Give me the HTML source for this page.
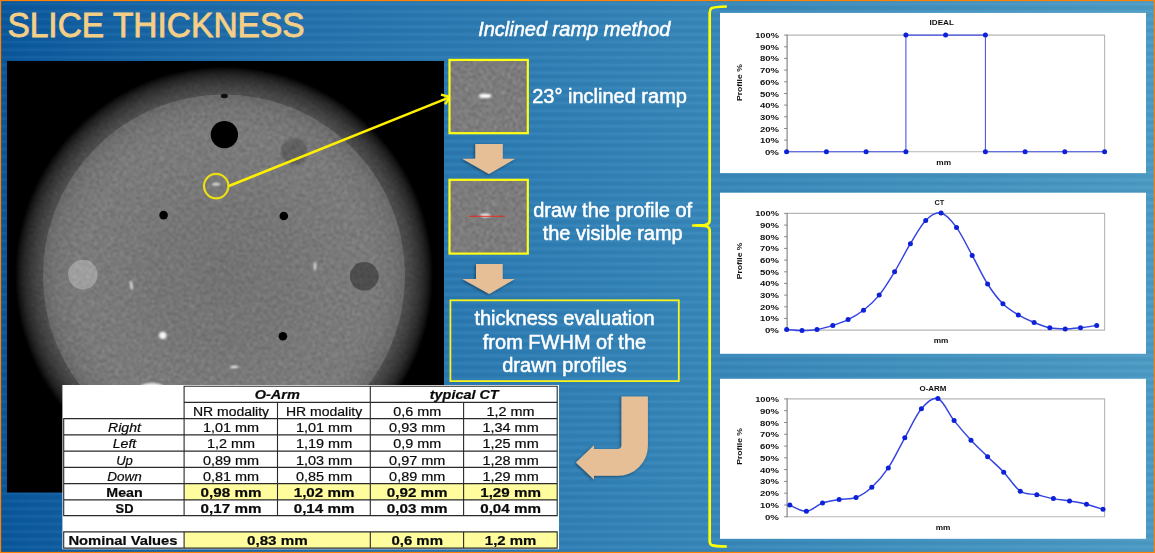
<!DOCTYPE html>
<html>
<head>
<meta charset="utf-8">
<title>Slice thickness</title>
<style>
html,body{margin:0;padding:0;}
body{width:1155px;height:553px;overflow:hidden;background:#2f7db5;font-family:"Liberation Sans",sans-serif;}
#slide{position:relative;width:1155px;height:553px;overflow:hidden;
  background:linear-gradient(90deg,#09579c 0px,#1563a4 120px,#2371ad 300px,#3282b7 610px,#4090be 900px,#4c9bc5 1155px);}
#stripes{position:absolute;left:0;top:0;width:1155px;height:553px;
  background:repeating-linear-gradient(180deg,rgba(0,0,0,0.038) 0px,rgba(0,0,0,0.033) 0.9px,rgba(0,0,0,0) 2.2px,rgba(255,255,255,0.033) 3.0px,rgba(255,255,255,0.038) 3.825px,rgba(255,255,255,0.033) 4.65px,rgba(0,0,0,0) 5.45px,rgba(0,0,0,0.033) 6.75px,rgba(0,0,0,0.038) 7.65px);}
#frame{position:absolute;left:0;top:0;width:1153px;height:551px;border:1px solid #ff8206;box-shadow:inset 0 0 0 0.3px rgba(255,130,6,0.5);}
svg{position:absolute;left:0;top:0;}
text{font-family:"Liberation Sans",sans-serif;}
text[fill="#fff"]{stroke:#fff;stroke-width:0.5px;}
#title{stroke:#f5cf86;stroke-width:0.85px;}
</style>
</head>
<body>
<div id="slide">
<div id="stripes"></div>
<svg width="1155" height="553" viewBox="0 0 1155 553">
<defs>
  <radialGradient id="shell" gradientUnits="userSpaceOnUse" cx="224" cy="275.5" r="210">
    <stop offset="0" stop-color="#505050"/>
    <stop offset="0.862" stop-color="#4e4e4e"/>
    <stop offset="0.895" stop-color="#434343"/>
    <stop offset="0.924" stop-color="#363636"/>
    <stop offset="0.955" stop-color="#252525"/>
    <stop offset="0.975" stop-color="#151515"/>
    <stop offset="0.995" stop-color="#000000"/>
    <stop offset="1" stop-color="#000000"/>
  </radialGradient>
  <radialGradient id="core" gradientUnits="userSpaceOnUse" cx="224" cy="275.5" r="181">
    <stop offset="0" stop-color="#727272"/>
    <stop offset="0.35" stop-color="#757575"/>
    <stop offset="0.6" stop-color="#797979"/>
    <stop offset="0.82" stop-color="#7a7a7a"/>
    <stop offset="0.93" stop-color="#737373"/>
    <stop offset="1" stop-color="#686868"/>
  </radialGradient>
  <clipPath id="ctclip"><rect x="7" y="61" width="437" height="431.5"/></clipPath>
  <clipPath id="phclip"><circle cx="224" cy="275.5" r="210"/></clipPath>
  <filter id="soft" x="-20%" y="-20%" width="140%" height="140%"><feGaussianBlur stdDeviation="0.7"/></filter>
  <filter id="soft2" x="-50%" y="-50%" width="200%" height="200%"><feGaussianBlur stdDeviation="0.85"/></filter>
  <filter id="noise" x="0" y="0" width="100%" height="100%" color-interpolation-filters="sRGB">
    <feTurbulence type="fractalNoise" baseFrequency="0.38" numOctaves="2" seed="7" result="t"/>
    <feGaussianBlur in="t" stdDeviation="0.8" result="tb"/>
    <feColorMatrix in="tb" type="matrix" values="3 0 0 0 -1  3 0 0 0 -1  3 0 0 0 -1  0 0 0 0 1"/>
  </filter>
  <filter id="chartblur" x="-2%" y="-2%" width="104%" height="104%"><feGaussianBlur stdDeviation="0.35"/></filter>
  <clipPath id="b1clip"><rect x="450.6" y="61" width="76.1" height="71.1"/></clipPath>
  <clipPath id="b2clip"><rect x="450.6" y="180.9" width="76.1" height="71.6"/></clipPath>
  <filter id="shadow" x="-20%" y="-20%" width="140%" height="140%">
    <feGaussianBlur in="SourceAlpha" stdDeviation="1.5" result="b"/>
    <feOffset in="b" dx="-1.5" dy="1" result="o"/>
    <feComponentTransfer in="o" result="s"><feFuncA type="linear" slope="0.45"/></feComponentTransfer>
    <feMerge><feMergeNode in="s"/><feMergeNode in="SourceGraphic"/></feMerge>
  </filter>
</defs>

<!-- TITLE -->
<text id="title" x="7.4" y="37.3" font-size="35" fill="#f5cf86" textLength="297.2" lengthAdjust="spacingAndGlyphs">SLICE THICKNESS</text>

<!-- CT PHANTOM IMAGE -->
<g id="ct" clip-path="url(#ctclip)">
  <rect x="7" y="61" width="437" height="431.5" fill="#000"/>
  <circle cx="224" cy="275.5" r="210" fill="url(#shell)"/>
  <circle cx="224" cy="275.5" r="181" fill="url(#core)" filter="url(#soft)"/>
  <g filter="url(#soft)">
  <circle cx="224.4" cy="134.6" r="13.7" fill="#000"/>
  <ellipse cx="224.4" cy="96" rx="3.5" ry="2.2" fill="#111"/>
  <circle cx="294.4" cy="151.8" r="13.2" fill="#606060" filter="url(#soft2)"/>
  <circle cx="163.6" cy="215.1" r="4.3" fill="#000"/>
  <circle cx="283.8" cy="216" r="4.3" fill="#000"/>
  <circle cx="282.9" cy="336.2" r="4.3" fill="#000"/>
  <circle cx="82.9" cy="274.6" r="14.8" fill="#9e9e9e"/>
  <circle cx="364.3" cy="276.3" r="14.3" fill="#4e4e4e"/>
  </g>
  <g filter="url(#soft2)">
  <ellipse cx="131.5" cy="285.5" rx="0.95" ry="4.8" fill="#ffffff" transform="rotate(-6 131.5 285.5)"/>
  <ellipse cx="315" cy="266.3" rx="0.9" ry="4.2" fill="#ffffff"/>
  <circle cx="162.8" cy="335.4" r="3.7" fill="#f4f4f4"/>
  <ellipse cx="234.3" cy="367" rx="4.2" ry="0.95" fill="#ffffff"/>
  <ellipse cx="152" cy="387" rx="12" ry="4" fill="#e8e8e8"/>
  <ellipse cx="216" cy="184.3" rx="4.2" ry="1.05" fill="#fff"/>
  </g>
  <g clip-path="url(#phclip)" style="mix-blend-mode:overlay" opacity="0.11">
    <rect x="7" y="61" width="436" height="432" filter="url(#noise)"/>
  </g>
</g>
<!-- yellow marker + arrow -->
<circle cx="216.2" cy="186.1" r="12.2" fill="none" stroke="#ecdf12" stroke-width="2.2"/>
<line x1="228.9" y1="186" x2="450" y2="97.1" stroke="#fff000" stroke-width="2.5"/>
<polyline points="441,94.6 450.2,97 445,104.3" fill="none" stroke="#fff000" stroke-width="2.4" stroke-linejoin="miter"/>

<!-- MIDDLE COLUMN -->
<text x="574.3" y="36.4" font-size="20" font-style="italic" fill="#fff" text-anchor="middle">Inclined ramp method</text>

<rect x="449.5" y="59.9" width="78.3" height="73.3" fill="#7b7b7b" stroke="#ffff14" stroke-width="2.2"/>
<g clip-path="url(#b1clip)"><rect x="450" y="60" width="78" height="74" filter="url(#noise)" style="mix-blend-mode:overlay" opacity="0.13"/></g>
<ellipse cx="485.2" cy="95.9" rx="6.5" ry="2.2" fill="#ffffff" filter="url(#soft2)"/>
<text x="532.2" y="102.8" font-size="20" fill="#fff">23° inclined ramp</text>

<g filter="url(#shadow)">
<polygon points="475.3,143.9 502.8,143.9 502.8,158.8 515.2,158.8 489,173.9 462.3,158.8 475.3,158.8" fill="#e7bf96"/>
<polygon points="476,263.9 502.7,263.9 502.7,279 514.8,279 489.3,294.1 462.3,279 476,279" fill="#e7bf96"/>
<path d="M621.5,396.4 L647.9,396.4 L647.9,445.7 A30,30 0 0 1 617.9,475.7 L594,475.7 L594,479.5 L576,462.4 L594,445.2 L594,449 L617.5,449 Q621.5,449 621.5,445 Z" fill="#e7bf96"/>
</g>

<rect x="449.5" y="179.8" width="78.3" height="73.8" fill="#7b7b7b" stroke="#ffff14" stroke-width="2.2"/>
<g clip-path="url(#b2clip)"><rect x="450" y="180" width="78" height="74" filter="url(#noise)" style="mix-blend-mode:overlay" opacity="0.13"/></g>
<ellipse cx="485.3" cy="215.5" rx="5.6" ry="1.9" fill="#ececec" filter="url(#soft2)"/>
<line x1="468.6" y1="216.2" x2="504.7" y2="216.2" stroke="#e8281c" stroke-width="1.1"/>
<text x="612.7" y="216.6" font-size="20" fill="#fff" text-anchor="middle">draw the profile of</text>
<text x="612.7" y="240.4" font-size="20" fill="#fff" text-anchor="middle">the visible ramp</text>

<rect x="450.4" y="300.3" width="228.4" height="80.8" fill="none" stroke="#f8f41c" stroke-width="1.8"/>
<text x="564.5" y="324.8" font-size="20" fill="#fff" text-anchor="middle">thickness evaluation</text>
<text x="564.5" y="348.6" font-size="20" fill="#fff" text-anchor="middle">from FWHM of the</text>
<text x="564.5" y="371.9" font-size="20" fill="#fff" text-anchor="middle">drawn profiles</text>

<!-- bracket -->
<path d="M726.8,6.5 Q714,6.8 711.3,8.3 Q709.7,9.5 709.7,13 L709.7,220.3 Q709.7,224.6 704.5,225 L693.2,225.5 L704.5,226 Q709.7,226.4 709.7,230.7 L709.7,540.5 Q709.7,544 711.5,545 Q715,546.4 726.8,546.5" fill="none" stroke="#ffff00" stroke-width="2.7" stroke-linejoin="round"/>

<!-- GEN-START -->
<g id="table">
<rect x="62.4" y="385" width="496.6" height="164.3" fill="#fff"/>
<rect x="184.1" y="483.6" width="373.1" height="16.3" fill="#fffc9e"/>
<rect x="184.1" y="531.9" width="373.1" height="16.2" fill="#fffc9e"/>
<path d="M184.1,386.3H557.2M184.1,402.4H557.2M63.7,418.6H557.2M63.7,434.85H557.2M63.7,451.1H557.2M63.7,467.35H557.2M63.7,483.6H557.2M63.7,499.9H557.2M63.7,515.6H557.2M63.7,531.9H557.2M63.7,548.1H557.2M63.7,418.6V515.6M63.7,531.9V548.1M184.1,386.3V515.6M184.1,531.9V548.1M277.5,402.4V515.6M370.3,386.3V515.6M370.3,531.9V548.1M463.6,402.4V515.6M463.6,531.9V548.1M557.2,386.3V515.6M557.2,531.9V548.1" fill="none" stroke="#2a2a2a" stroke-width="1.1" stroke-linecap="square"/>
<text x="277.3" y="399.0" font-size="12.5" text-anchor="middle" fill="#0a0a0a" stroke="#0a0a0a" stroke-width="0.2" textLength="45.2" lengthAdjust="spacingAndGlyphs" font-weight="bold" font-style="italic">O-Arm</text>
<text x="464.2" y="399.0" font-size="12.5" text-anchor="middle" fill="#0a0a0a" stroke="#0a0a0a" stroke-width="0.2" textLength="68.8" lengthAdjust="spacingAndGlyphs" font-weight="bold" font-style="italic">typical CT</text>
<text x="231.0" y="415.7" font-size="12.5" text-anchor="middle" fill="#0a0a0a" stroke="#0a0a0a" stroke-width="0.2" textLength="76.2" lengthAdjust="spacingAndGlyphs">NR modality</text>
<text x="324.1" y="415.7" font-size="12.5" text-anchor="middle" fill="#0a0a0a" stroke="#0a0a0a" stroke-width="0.2" textLength="76.2" lengthAdjust="spacingAndGlyphs">HR modality</text>
<text x="417.2" y="415.7" font-size="12.5" text-anchor="middle" fill="#0a0a0a" stroke="#0a0a0a" stroke-width="0.2" textLength="48.0" lengthAdjust="spacingAndGlyphs">0,6 mm</text>
<text x="510.6" y="415.7" font-size="12.5" text-anchor="middle" fill="#0a0a0a" stroke="#0a0a0a" stroke-width="0.2" textLength="48.0" lengthAdjust="spacingAndGlyphs">1,2 mm</text>
<text x="124.5" y="432.0" font-size="12.5" text-anchor="middle" fill="#0a0a0a" stroke="#0a0a0a" stroke-width="0.2" textLength="32.9" lengthAdjust="spacingAndGlyphs" font-style="italic">Right</text>
<text x="231.0" y="432.0" font-size="12.5" text-anchor="middle" fill="#0a0a0a" stroke="#0a0a0a" stroke-width="0.2" textLength="56.2" lengthAdjust="spacingAndGlyphs">1,01 mm</text>
<text x="324.1" y="432.0" font-size="12.5" text-anchor="middle" fill="#0a0a0a" stroke="#0a0a0a" stroke-width="0.2" textLength="56.2" lengthAdjust="spacingAndGlyphs">1,01 mm</text>
<text x="417.2" y="432.0" font-size="12.5" text-anchor="middle" fill="#0a0a0a" stroke="#0a0a0a" stroke-width="0.2" textLength="56.2" lengthAdjust="spacingAndGlyphs">0,93 mm</text>
<text x="510.6" y="432.0" font-size="12.5" text-anchor="middle" fill="#0a0a0a" stroke="#0a0a0a" stroke-width="0.2" textLength="56.2" lengthAdjust="spacingAndGlyphs">1,34 mm</text>
<text x="124.5" y="448.2" font-size="12.5" text-anchor="middle" fill="#0a0a0a" stroke="#0a0a0a" stroke-width="0.2" textLength="23.5" lengthAdjust="spacingAndGlyphs" font-style="italic">Left</text>
<text x="231.0" y="448.2" font-size="12.5" text-anchor="middle" fill="#0a0a0a" stroke="#0a0a0a" stroke-width="0.2" textLength="48.0" lengthAdjust="spacingAndGlyphs">1,2 mm</text>
<text x="324.1" y="448.2" font-size="12.5" text-anchor="middle" fill="#0a0a0a" stroke="#0a0a0a" stroke-width="0.2" textLength="56.2" lengthAdjust="spacingAndGlyphs">1,19 mm</text>
<text x="417.2" y="448.2" font-size="12.5" text-anchor="middle" fill="#0a0a0a" stroke="#0a0a0a" stroke-width="0.2" textLength="48.0" lengthAdjust="spacingAndGlyphs">0,9 mm</text>
<text x="510.6" y="448.2" font-size="12.5" text-anchor="middle" fill="#0a0a0a" stroke="#0a0a0a" stroke-width="0.2" textLength="56.2" lengthAdjust="spacingAndGlyphs">1,25 mm</text>
<text x="124.5" y="464.5" font-size="12.5" text-anchor="middle" fill="#0a0a0a" stroke="#0a0a0a" stroke-width="0.2" textLength="16.7" lengthAdjust="spacingAndGlyphs" font-style="italic">Up</text>
<text x="231.0" y="464.5" font-size="12.5" text-anchor="middle" fill="#0a0a0a" stroke="#0a0a0a" stroke-width="0.2" textLength="56.2" lengthAdjust="spacingAndGlyphs">0,89 mm</text>
<text x="324.1" y="464.5" font-size="12.5" text-anchor="middle" fill="#0a0a0a" stroke="#0a0a0a" stroke-width="0.2" textLength="56.2" lengthAdjust="spacingAndGlyphs">1,03 mm</text>
<text x="417.2" y="464.5" font-size="12.5" text-anchor="middle" fill="#0a0a0a" stroke="#0a0a0a" stroke-width="0.2" textLength="56.2" lengthAdjust="spacingAndGlyphs">0,97 mm</text>
<text x="510.6" y="464.5" font-size="12.5" text-anchor="middle" fill="#0a0a0a" stroke="#0a0a0a" stroke-width="0.2" textLength="56.2" lengthAdjust="spacingAndGlyphs">1,28 mm</text>
<text x="124.5" y="480.7" font-size="12.5" text-anchor="middle" fill="#0a0a0a" stroke="#0a0a0a" stroke-width="0.2" textLength="34.5" lengthAdjust="spacingAndGlyphs" font-style="italic">Down</text>
<text x="231.0" y="480.7" font-size="12.5" text-anchor="middle" fill="#0a0a0a" stroke="#0a0a0a" stroke-width="0.2" textLength="56.2" lengthAdjust="spacingAndGlyphs">0,81 mm</text>
<text x="324.1" y="480.7" font-size="12.5" text-anchor="middle" fill="#0a0a0a" stroke="#0a0a0a" stroke-width="0.2" textLength="56.2" lengthAdjust="spacingAndGlyphs">0,85 mm</text>
<text x="417.2" y="480.7" font-size="12.5" text-anchor="middle" fill="#0a0a0a" stroke="#0a0a0a" stroke-width="0.2" textLength="56.2" lengthAdjust="spacingAndGlyphs">0,89 mm</text>
<text x="510.6" y="480.7" font-size="12.5" text-anchor="middle" fill="#0a0a0a" stroke="#0a0a0a" stroke-width="0.2" textLength="56.2" lengthAdjust="spacingAndGlyphs">1,29 mm</text>
<text x="124.5" y="497.0" font-size="12.5" text-anchor="middle" fill="#0a0a0a" stroke="#0a0a0a" stroke-width="0.2" textLength="36.3" lengthAdjust="spacingAndGlyphs" font-weight="bold">Mean</text>
<text x="231.0" y="497.0" font-size="12.5" text-anchor="middle" fill="#0a0a0a" stroke="#0a0a0a" stroke-width="0.2" textLength="60.8" lengthAdjust="spacingAndGlyphs" font-weight="bold">0,98 mm</text>
<text x="324.1" y="497.0" font-size="12.5" text-anchor="middle" fill="#0a0a0a" stroke="#0a0a0a" stroke-width="0.2" textLength="60.8" lengthAdjust="spacingAndGlyphs" font-weight="bold">1,02 mm</text>
<text x="417.2" y="497.0" font-size="12.5" text-anchor="middle" fill="#0a0a0a" stroke="#0a0a0a" stroke-width="0.2" textLength="60.8" lengthAdjust="spacingAndGlyphs" font-weight="bold">0,92 mm</text>
<text x="510.6" y="497.0" font-size="12.5" text-anchor="middle" fill="#0a0a0a" stroke="#0a0a0a" stroke-width="0.2" textLength="60.8" lengthAdjust="spacingAndGlyphs" font-weight="bold">1,29 mm</text>
<text x="124.5" y="512.7" font-size="12.5" text-anchor="middle" fill="#0a0a0a" stroke="#0a0a0a" stroke-width="0.2" textLength="17.9" lengthAdjust="spacingAndGlyphs" font-weight="bold">SD</text>
<text x="231.0" y="512.7" font-size="12.5" text-anchor="middle" fill="#0a0a0a" stroke="#0a0a0a" stroke-width="0.2" textLength="60.8" lengthAdjust="spacingAndGlyphs" font-weight="bold">0,17 mm</text>
<text x="324.1" y="512.7" font-size="12.5" text-anchor="middle" fill="#0a0a0a" stroke="#0a0a0a" stroke-width="0.2" textLength="60.8" lengthAdjust="spacingAndGlyphs" font-weight="bold">0,14 mm</text>
<text x="417.2" y="512.7" font-size="12.5" text-anchor="middle" fill="#0a0a0a" stroke="#0a0a0a" stroke-width="0.2" textLength="60.8" lengthAdjust="spacingAndGlyphs" font-weight="bold">0,03 mm</text>
<text x="510.6" y="512.7" font-size="12.5" text-anchor="middle" fill="#0a0a0a" stroke="#0a0a0a" stroke-width="0.2" textLength="60.8" lengthAdjust="spacingAndGlyphs" font-weight="bold">0,04 mm</text>
<text x="123.0" y="544.8" font-size="12.5" text-anchor="middle" fill="#0a0a0a" stroke="#0a0a0a" stroke-width="0.2" textLength="109.1" lengthAdjust="spacingAndGlyphs" font-weight="bold">Nominal Values</text>
<text x="277.4" y="544.8" font-size="12.5" text-anchor="middle" fill="#0a0a0a" stroke="#0a0a0a" stroke-width="0.2" textLength="60.8" lengthAdjust="spacingAndGlyphs" font-weight="bold">0,83 mm</text>
<text x="417.2" y="544.8" font-size="12.5" text-anchor="middle" fill="#0a0a0a" stroke="#0a0a0a" stroke-width="0.2" textLength="51.5" lengthAdjust="spacingAndGlyphs" font-weight="bold">0,6 mm</text>
<text x="510.6" y="544.8" font-size="12.5" text-anchor="middle" fill="#0a0a0a" stroke="#0a0a0a" stroke-width="0.2" textLength="51.5" lengthAdjust="spacingAndGlyphs" font-weight="bold">1,2 mm</text>
</g>
<g id="chart1" filter="url(#chartblur)">
<rect x="720" y="12.9" width="426" height="160.2" fill="#fff"/>
<path d="M787.1,35.1H1104.6V151.8H787.1" fill="none" stroke="#b6b6b6" stroke-width="1.1"/>
<path d="M787.1,34.6V152.3" stroke="#7c7c7c" stroke-width="1.1"/>
<path d="M784.1,151.8H787.1" stroke="#7c7c7c" stroke-width="0.9"/>
<text x="778.9" y="154.8" font-size="7" font-weight="bold" text-anchor="end" fill="#111" textLength="14" lengthAdjust="spacingAndGlyphs">0%</text>
<path d="M784.1,140.1H787.1" stroke="#7c7c7c" stroke-width="0.9"/>
<text x="778.9" y="143.1" font-size="7" font-weight="bold" text-anchor="end" fill="#111" textLength="19" lengthAdjust="spacingAndGlyphs">10%</text>
<path d="M784.1,128.5H787.1" stroke="#7c7c7c" stroke-width="0.9"/>
<text x="778.9" y="131.5" font-size="7" font-weight="bold" text-anchor="end" fill="#111" textLength="19" lengthAdjust="spacingAndGlyphs">20%</text>
<path d="M784.1,116.8H787.1" stroke="#7c7c7c" stroke-width="0.9"/>
<text x="778.9" y="119.8" font-size="7" font-weight="bold" text-anchor="end" fill="#111" textLength="19" lengthAdjust="spacingAndGlyphs">30%</text>
<path d="M784.1,105.1H787.1" stroke="#7c7c7c" stroke-width="0.9"/>
<text x="778.9" y="108.1" font-size="7" font-weight="bold" text-anchor="end" fill="#111" textLength="19" lengthAdjust="spacingAndGlyphs">40%</text>
<path d="M784.1,93.5H787.1" stroke="#7c7c7c" stroke-width="0.9"/>
<text x="778.9" y="96.5" font-size="7" font-weight="bold" text-anchor="end" fill="#111" textLength="19" lengthAdjust="spacingAndGlyphs">50%</text>
<path d="M784.1,81.8H787.1" stroke="#7c7c7c" stroke-width="0.9"/>
<text x="778.9" y="84.8" font-size="7" font-weight="bold" text-anchor="end" fill="#111" textLength="19" lengthAdjust="spacingAndGlyphs">60%</text>
<path d="M784.1,70.1H787.1" stroke="#7c7c7c" stroke-width="0.9"/>
<text x="778.9" y="73.1" font-size="7" font-weight="bold" text-anchor="end" fill="#111" textLength="19" lengthAdjust="spacingAndGlyphs">70%</text>
<path d="M784.1,58.4H787.1" stroke="#7c7c7c" stroke-width="0.9"/>
<text x="778.9" y="61.4" font-size="7" font-weight="bold" text-anchor="end" fill="#111" textLength="19" lengthAdjust="spacingAndGlyphs">80%</text>
<path d="M784.1,46.8H787.1" stroke="#7c7c7c" stroke-width="0.9"/>
<text x="778.9" y="49.8" font-size="7" font-weight="bold" text-anchor="end" fill="#111" textLength="19" lengthAdjust="spacingAndGlyphs">90%</text>
<path d="M784.1,35.1H787.1" stroke="#7c7c7c" stroke-width="0.9"/>
<text x="778.9" y="38.1" font-size="7" font-weight="bold" text-anchor="end" fill="#111" textLength="23.7" lengthAdjust="spacingAndGlyphs">100%</text>
<text x="941.7" y="25.3" font-size="7" font-weight="bold" text-anchor="middle" fill="#111" textLength="24.4" lengthAdjust="spacingAndGlyphs">IDEAL</text>
<text x="943.7" y="165.3" font-size="7" font-weight="bold" text-anchor="middle" fill="#111" textLength="14.7" lengthAdjust="spacingAndGlyphs">mm</text>
<text transform="translate(741.6,82.6) rotate(-90)" font-size="7" font-weight="bold" text-anchor="middle" fill="#111" textLength="36.8" lengthAdjust="spacingAndGlyphs">Profile %</text>
<path d="M786.6,151.8L826.4,151.8L866.1,151.8L905.9,151.8L905.9,35.1L945.6,35.1L985.4,35.1L985.4,151.8L1025.1,151.8L1064.8,151.8L1104.6,151.8" fill="none" stroke="#4450e4" stroke-width="1.05" stroke-linejoin="round"/>
<circle cx="786.6" cy="151.8" r="2.5" fill="#0c20d8"/>
<circle cx="826.4" cy="151.8" r="2.5" fill="#0c20d8"/>
<circle cx="866.1" cy="151.8" r="2.5" fill="#0c20d8"/>
<circle cx="905.9" cy="151.8" r="2.5" fill="#0c20d8"/>
<circle cx="905.9" cy="35.1" r="2.5" fill="#0c20d8"/>
<circle cx="945.6" cy="35.1" r="2.5" fill="#0c20d8"/>
<circle cx="985.4" cy="35.1" r="2.5" fill="#0c20d8"/>
<circle cx="985.4" cy="151.8" r="2.5" fill="#0c20d8"/>
<circle cx="1025.1" cy="151.8" r="2.5" fill="#0c20d8"/>
<circle cx="1064.8" cy="151.8" r="2.5" fill="#0c20d8"/>
<circle cx="1104.6" cy="151.8" r="2.5" fill="#0c20d8"/>
</g>
<g id="chart2" filter="url(#chartblur)">
<rect x="720" y="192.7" width="426" height="161.1" fill="#fff"/>
<path d="M787.1,213.4H1104.6V330.1H787.1" fill="none" stroke="#b6b6b6" stroke-width="1.1"/>
<path d="M787.1,212.9V330.6" stroke="#7c7c7c" stroke-width="1.1"/>
<path d="M784.1,330.1H787.1" stroke="#7c7c7c" stroke-width="0.9"/>
<text x="778.9" y="333.1" font-size="7" font-weight="bold" text-anchor="end" fill="#111" textLength="14" lengthAdjust="spacingAndGlyphs">0%</text>
<path d="M784.1,318.4H787.1" stroke="#7c7c7c" stroke-width="0.9"/>
<text x="778.9" y="321.4" font-size="7" font-weight="bold" text-anchor="end" fill="#111" textLength="19" lengthAdjust="spacingAndGlyphs">10%</text>
<path d="M784.1,306.8H787.1" stroke="#7c7c7c" stroke-width="0.9"/>
<text x="778.9" y="309.8" font-size="7" font-weight="bold" text-anchor="end" fill="#111" textLength="19" lengthAdjust="spacingAndGlyphs">20%</text>
<path d="M784.1,295.1H787.1" stroke="#7c7c7c" stroke-width="0.9"/>
<text x="778.9" y="298.1" font-size="7" font-weight="bold" text-anchor="end" fill="#111" textLength="19" lengthAdjust="spacingAndGlyphs">30%</text>
<path d="M784.1,283.4H787.1" stroke="#7c7c7c" stroke-width="0.9"/>
<text x="778.9" y="286.4" font-size="7" font-weight="bold" text-anchor="end" fill="#111" textLength="19" lengthAdjust="spacingAndGlyphs">40%</text>
<path d="M784.1,271.8H787.1" stroke="#7c7c7c" stroke-width="0.9"/>
<text x="778.9" y="274.8" font-size="7" font-weight="bold" text-anchor="end" fill="#111" textLength="19" lengthAdjust="spacingAndGlyphs">50%</text>
<path d="M784.1,260.1H787.1" stroke="#7c7c7c" stroke-width="0.9"/>
<text x="778.9" y="263.1" font-size="7" font-weight="bold" text-anchor="end" fill="#111" textLength="19" lengthAdjust="spacingAndGlyphs">60%</text>
<path d="M784.1,248.4H787.1" stroke="#7c7c7c" stroke-width="0.9"/>
<text x="778.9" y="251.4" font-size="7" font-weight="bold" text-anchor="end" fill="#111" textLength="19" lengthAdjust="spacingAndGlyphs">70%</text>
<path d="M784.1,236.7H787.1" stroke="#7c7c7c" stroke-width="0.9"/>
<text x="778.9" y="239.7" font-size="7" font-weight="bold" text-anchor="end" fill="#111" textLength="19" lengthAdjust="spacingAndGlyphs">80%</text>
<path d="M784.1,225.1H787.1" stroke="#7c7c7c" stroke-width="0.9"/>
<text x="778.9" y="228.1" font-size="7" font-weight="bold" text-anchor="end" fill="#111" textLength="19" lengthAdjust="spacingAndGlyphs">90%</text>
<path d="M784.1,213.4H787.1" stroke="#7c7c7c" stroke-width="0.9"/>
<text x="778.9" y="216.4" font-size="7" font-weight="bold" text-anchor="end" fill="#111" textLength="23.7" lengthAdjust="spacingAndGlyphs">100%</text>
<text x="939.4" y="204.6" font-size="7" font-weight="bold" text-anchor="middle" fill="#111" textLength="9.8" lengthAdjust="spacingAndGlyphs">CT</text>
<text x="941" y="342.6" font-size="7" font-weight="bold" text-anchor="middle" fill="#111" textLength="14.7" lengthAdjust="spacingAndGlyphs">mm</text>
<text transform="translate(741.6,260.9) rotate(-90)" font-size="7" font-weight="bold" text-anchor="middle" fill="#111" textLength="36.8" lengthAdjust="spacingAndGlyphs">Profile %</text>
<path d="M786.7,329.5C789.2,329.7 797.0,330.5 802.0,330.5C807.1,330.5 811.9,330.4 817.0,329.5C822.1,328.7 827.6,327.1 832.8,325.4C837.9,323.8 843.0,322.1 848.1,319.6C853.2,317.1 858.3,314.3 863.5,310.3C868.7,306.2 874.1,301.5 879.2,295.1C884.4,288.7 889.4,280.3 894.6,271.8C899.8,263.2 905.2,252.3 910.4,243.7C915.6,235.2 920.6,225.5 925.7,220.4C930.8,215.3 936.0,211.9 941.1,213.0C946.2,214.2 951.3,220.3 956.5,227.4C961.6,234.5 967.0,246.0 972.2,255.4C977.4,264.8 982.5,275.9 987.6,284.0C992.7,292.1 997.8,298.7 1002.9,303.8C1008.1,309.0 1013.1,311.8 1018.3,314.9C1023.5,318.0 1028.8,320.4 1034.1,322.5C1039.3,324.7 1044.6,326.7 1049.8,327.8C1055.0,328.8 1060.1,328.9 1065.2,328.9C1070.3,328.9 1075.3,328.3 1080.5,327.8C1085.8,327.2 1094.0,325.8 1096.7,325.4" fill="none" stroke="#3443e2" stroke-width="1.45" stroke-linejoin="round"/>
<circle cx="786.7" cy="329.5" r="2.5" fill="#0c20d8"/>
<circle cx="802.0" cy="330.5" r="2.5" fill="#0c20d8"/>
<circle cx="817.0" cy="329.5" r="2.5" fill="#0c20d8"/>
<circle cx="832.8" cy="325.4" r="2.5" fill="#0c20d8"/>
<circle cx="848.1" cy="319.6" r="2.5" fill="#0c20d8"/>
<circle cx="863.5" cy="310.3" r="2.5" fill="#0c20d8"/>
<circle cx="879.2" cy="295.1" r="2.5" fill="#0c20d8"/>
<circle cx="894.6" cy="271.8" r="2.5" fill="#0c20d8"/>
<circle cx="910.4" cy="243.7" r="2.5" fill="#0c20d8"/>
<circle cx="925.7" cy="220.4" r="2.5" fill="#0c20d8"/>
<circle cx="941.1" cy="213.0" r="2.5" fill="#0c20d8"/>
<circle cx="956.5" cy="227.4" r="2.5" fill="#0c20d8"/>
<circle cx="972.2" cy="255.4" r="2.5" fill="#0c20d8"/>
<circle cx="987.6" cy="284.0" r="2.5" fill="#0c20d8"/>
<circle cx="1002.9" cy="303.8" r="2.5" fill="#0c20d8"/>
<circle cx="1018.3" cy="314.9" r="2.5" fill="#0c20d8"/>
<circle cx="1034.1" cy="322.5" r="2.5" fill="#0c20d8"/>
<circle cx="1049.8" cy="327.8" r="2.5" fill="#0c20d8"/>
<circle cx="1065.2" cy="328.9" r="2.5" fill="#0c20d8"/>
<circle cx="1080.5" cy="327.8" r="2.5" fill="#0c20d8"/>
<circle cx="1096.7" cy="325.4" r="2.5" fill="#0c20d8"/>
</g>
<g id="chart3" filter="url(#chartblur)">
<rect x="720" y="378.8" width="426" height="160.0" fill="#fff"/>
<path d="M787.1,398.9H1104.6V516.8H787.1" fill="none" stroke="#b6b6b6" stroke-width="1.1"/>
<path d="M787.1,398.4V517.3" stroke="#7c7c7c" stroke-width="1.1"/>
<path d="M784.1,516.8H787.1" stroke="#7c7c7c" stroke-width="0.9"/>
<text x="778.9" y="519.8" font-size="7" font-weight="bold" text-anchor="end" fill="#111" textLength="14" lengthAdjust="spacingAndGlyphs">0%</text>
<path d="M784.1,505.0H787.1" stroke="#7c7c7c" stroke-width="0.9"/>
<text x="778.9" y="508.0" font-size="7" font-weight="bold" text-anchor="end" fill="#111" textLength="19" lengthAdjust="spacingAndGlyphs">10%</text>
<path d="M784.1,493.2H787.1" stroke="#7c7c7c" stroke-width="0.9"/>
<text x="778.9" y="496.2" font-size="7" font-weight="bold" text-anchor="end" fill="#111" textLength="19" lengthAdjust="spacingAndGlyphs">20%</text>
<path d="M784.1,481.4H787.1" stroke="#7c7c7c" stroke-width="0.9"/>
<text x="778.9" y="484.4" font-size="7" font-weight="bold" text-anchor="end" fill="#111" textLength="19" lengthAdjust="spacingAndGlyphs">30%</text>
<path d="M784.1,469.6H787.1" stroke="#7c7c7c" stroke-width="0.9"/>
<text x="778.9" y="472.6" font-size="7" font-weight="bold" text-anchor="end" fill="#111" textLength="19" lengthAdjust="spacingAndGlyphs">40%</text>
<path d="M784.1,457.8H787.1" stroke="#7c7c7c" stroke-width="0.9"/>
<text x="778.9" y="460.8" font-size="7" font-weight="bold" text-anchor="end" fill="#111" textLength="19" lengthAdjust="spacingAndGlyphs">50%</text>
<path d="M784.1,446.1H787.1" stroke="#7c7c7c" stroke-width="0.9"/>
<text x="778.9" y="449.1" font-size="7" font-weight="bold" text-anchor="end" fill="#111" textLength="19" lengthAdjust="spacingAndGlyphs">60%</text>
<path d="M784.1,434.3H787.1" stroke="#7c7c7c" stroke-width="0.9"/>
<text x="778.9" y="437.3" font-size="7" font-weight="bold" text-anchor="end" fill="#111" textLength="19" lengthAdjust="spacingAndGlyphs">70%</text>
<path d="M784.1,422.5H787.1" stroke="#7c7c7c" stroke-width="0.9"/>
<text x="778.9" y="425.5" font-size="7" font-weight="bold" text-anchor="end" fill="#111" textLength="19" lengthAdjust="spacingAndGlyphs">80%</text>
<path d="M784.1,410.7H787.1" stroke="#7c7c7c" stroke-width="0.9"/>
<text x="778.9" y="413.7" font-size="7" font-weight="bold" text-anchor="end" fill="#111" textLength="19" lengthAdjust="spacingAndGlyphs">90%</text>
<path d="M784.1,398.9H787.1" stroke="#7c7c7c" stroke-width="0.9"/>
<text x="778.9" y="401.9" font-size="7" font-weight="bold" text-anchor="end" fill="#111" textLength="23.7" lengthAdjust="spacingAndGlyphs">100%</text>
<text x="933.0" y="391.2" font-size="7" font-weight="bold" text-anchor="middle" fill="#111" textLength="26.9" lengthAdjust="spacingAndGlyphs">O-ARM</text>
<text x="943" y="530.3" font-size="7" font-weight="bold" text-anchor="middle" fill="#111" textLength="14.7" lengthAdjust="spacingAndGlyphs">mm</text>
<text transform="translate(741.6,446.4) rotate(-90)" font-size="7" font-weight="bold" text-anchor="middle" fill="#111" textLength="36.8" lengthAdjust="spacingAndGlyphs">Profile %</text>
<path d="M789.8,505.0C792.6,506.1 800.9,511.6 806.4,511.3C811.8,510.9 817.1,505.0 822.5,503.0C828.0,501.0 833.5,500.4 839.1,499.5C844.6,498.5 850.6,499.5 856.0,497.5C861.4,495.4 866.4,492.3 871.8,487.3C877.1,482.4 882.8,476.1 888.3,467.9C893.8,459.6 899.3,447.7 904.8,437.8C910.4,428.0 915.9,415.3 921.4,408.8C926.9,402.3 932.5,396.6 937.9,398.5C943.4,400.5 948.6,413.7 954.1,420.6C959.6,427.5 965.4,434.2 971.0,440.2C976.6,446.2 982.1,451.3 987.6,456.7C993.0,462.0 998.3,466.5 1003.7,472.2C1009.2,478.0 1014.8,487.5 1020.3,491.2C1025.8,495.0 1031.3,493.5 1036.8,494.8C1042.3,496.0 1047.9,497.6 1053.4,498.6C1058.8,499.7 1064.0,500.1 1069.5,501.0C1075.0,501.9 1080.9,502.8 1086.5,504.2C1092.0,505.6 1100.2,508.4 1103.0,509.3" fill="none" stroke="#3443e2" stroke-width="1.45" stroke-linejoin="round"/>
<circle cx="789.8" cy="505.0" r="2.5" fill="#0c20d8"/>
<circle cx="806.4" cy="511.3" r="2.5" fill="#0c20d8"/>
<circle cx="822.5" cy="503.0" r="2.5" fill="#0c20d8"/>
<circle cx="839.1" cy="499.5" r="2.5" fill="#0c20d8"/>
<circle cx="856.0" cy="497.5" r="2.5" fill="#0c20d8"/>
<circle cx="871.8" cy="487.3" r="2.5" fill="#0c20d8"/>
<circle cx="888.3" cy="467.9" r="2.5" fill="#0c20d8"/>
<circle cx="904.8" cy="437.8" r="2.5" fill="#0c20d8"/>
<circle cx="921.4" cy="408.8" r="2.5" fill="#0c20d8"/>
<circle cx="937.9" cy="398.5" r="2.5" fill="#0c20d8"/>
<circle cx="954.1" cy="420.6" r="2.5" fill="#0c20d8"/>
<circle cx="971.0" cy="440.2" r="2.5" fill="#0c20d8"/>
<circle cx="987.6" cy="456.7" r="2.5" fill="#0c20d8"/>
<circle cx="1003.7" cy="472.2" r="2.5" fill="#0c20d8"/>
<circle cx="1020.3" cy="491.2" r="2.5" fill="#0c20d8"/>
<circle cx="1036.8" cy="494.8" r="2.5" fill="#0c20d8"/>
<circle cx="1053.4" cy="498.6" r="2.5" fill="#0c20d8"/>
<circle cx="1069.5" cy="501.0" r="2.5" fill="#0c20d8"/>
<circle cx="1086.5" cy="504.2" r="2.5" fill="#0c20d8"/>
<circle cx="1103.0" cy="509.3" r="2.5" fill="#0c20d8"/>
</g>
<!-- GEN-END -->
</svg>
<div id="frame"></div>
</div>
</body>
</html>
